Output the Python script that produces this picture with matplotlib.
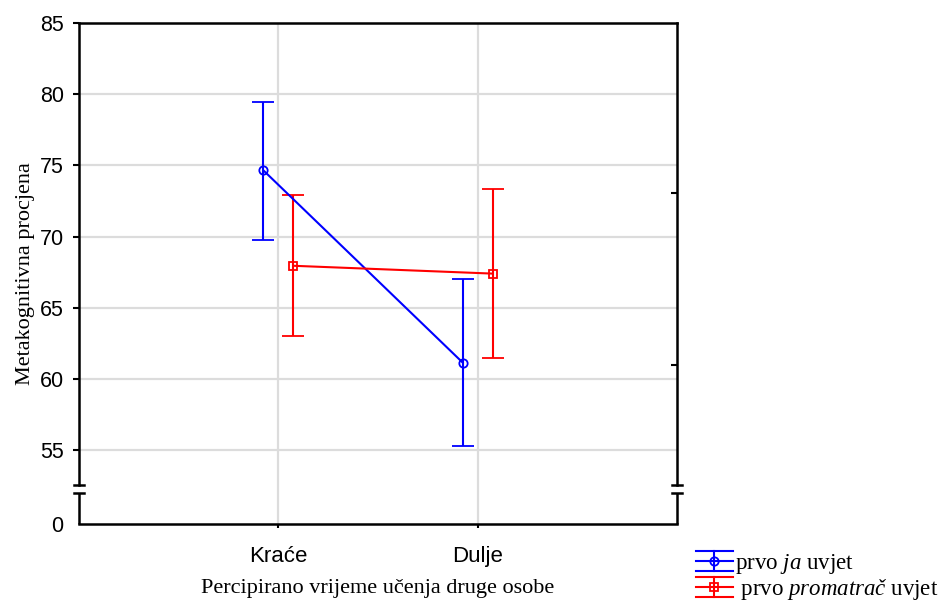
import matplotlib

matplotlib.use("Agg")

import matplotlib.pyplot as plt
import matplotlib.transforms as mtransforms
import numpy as np
from matplotlib.legend_handler import HandlerBase
from matplotlib.lines import Line2D

# data
categories = ["Kraće", "Dulje"]
ja_mean = [74.65, 61.15]
ja_upper = [79.45, 67.0]
ja_lower = [69.75, 55.3]
prom_mean = [67.95, 67.4]
prom_upper = [72.9, 73.35]
prom_lower = [63.05, 61.45]

y_ticks = [55, 60, 65, 70, 75, 80, 85]
right_ticks = [73.05, 61.0]

# broken axis: the visible range 55..85 plus a short stub standing for 0
AXIS_BOTTOM = 49.85
BREAK_HIGH = 52.55
BREAK_LOW = 52.0

BLUE = "#0000ff"
RED = "#ff0000"
GRID = "#dcdcdc"


class HandlerCapped(HandlerBase):
    """Legend key like the original: caps running across the whole key."""

    def create_artists(self, legend, orig_handle, xdescent, ydescent,
                       width, height, fontsize, trans):
        color = orig_handle.get_color()
        marker = orig_handle.get_marker()
        x0, x1 = -xdescent, -xdescent + width
        yc = height / 2 - ydescent
        cap = 7.2
        artists = []
        for yy in [yc - cap, yc, yc + cap]:
            artists.append(Line2D([x0, x1], [yy, yy], color=color, lw=1.5))
        xm = (x0 + x1) / 2
        artists.append(Line2D([xm, xm], [yc - cap, yc + cap], color=color, lw=1.5))
        artists.append(Line2D([xm], [yc], marker=marker, ms=6, mfc="none",
                              mec=color, mew=1.3, ls="none"))
        for a in artists:
            a.set_transform(trans)
        return artists


plt.rcParams["mathtext.fontset"] = "custom"
plt.rcParams["mathtext.rm"] = "Liberation Serif"
plt.rcParams["mathtext.it"] = "Liberation Serif:italic"

fig = plt.figure(figsize=(9.47, 6.03), dpi=100)
ax = fig.add_axes([0.0834, 0.1318, 0.6315, 0.8301])

x = np.arange(len(categories))
offset = 0.075

ja_err = [np.subtract(ja_mean, ja_lower), np.subtract(ja_upper, ja_mean)]
prom_err = [np.subtract(prom_mean, prom_lower), np.subtract(prom_upper, prom_mean)]

ax.errorbar(x - offset, ja_mean, yerr=ja_err, color=BLUE, lw=1.5, elinewidth=1.5,
            capsize=8, capthick=1.5, marker="o", ms=6, mfc="none", mec=BLUE, mew=1.3,
            zorder=3)
ax.errorbar(x + offset, prom_mean, yerr=prom_err, color=RED, lw=1.5, elinewidth=1.5,
            capsize=8, capthick=1.5, marker="s", ms=6, mfc="none", mec=RED, mew=1.3,
            zorder=3)

ax.set_xlim(-1, 2)
ax.set_ylim(AXIS_BOTTOM, 85)

# grid lines
for yv in y_ticks[:-1]:
    ax.axhline(yv, color=GRID, lw=1.6, zorder=0)
for xv in x:
    ax.axvline(xv, color=GRID, lw=1.6, zorder=0)

ax.set_xticks(x)
ax.set_xticklabels(categories, fontfamily="Liberation Sans", fontsize=16)
ax.set_yticks([AXIS_BOTTOM] + y_ticks)
ax.set_yticklabels(["0"] + [str(v) for v in y_ticks], fontfamily="Liberation Sans", fontsize=15.5)
ax.tick_params(axis="y", direction="out", length=4, width=1.5, pad=7)
ax.tick_params(axis="x", direction="out", length=3, width=1.5, pad=13)
ax.yaxis.get_major_ticks()[0].tick1line.set_visible(False)

# right spine ticks pointing inward
sec = ax.secondary_yaxis("right")
sec.set_yticks(right_ticks)
sec.set_yticklabels([])
sec.tick_params(direction="in", length=4, width=1.5)
sec.spines["right"].set_visible(False)

# spines with a break
for side in ["top", "bottom"]:
    ax.spines[side].set_linewidth(1.8)
for side in ["left", "right"]:
    ax.spines[side].set_linewidth(1.8)
    ax.spines[side].set_bounds(BREAK_HIGH, 85)

trans = mtransforms.blended_transform_factory(ax.transAxes, ax.transData)
dx = 0.008
for xs in [0, 1]:
    ax.plot([xs, xs], [AXIS_BOTTOM, BREAK_LOW], color="black", lw=1.8,
            transform=trans, clip_on=False, solid_capstyle="butt")
    for yb in [BREAK_HIGH, BREAK_LOW]:
        ax.plot([xs - dx, xs + dx], [yb, yb], color="black", lw=1.8,
                transform=trans, clip_on=False)

ax.set_ylabel("Metakognitivna procjena", fontfamily="Liberation Serif", fontsize=16, labelpad=3)
ax.set_xlabel("Percipirano vrijeme učenja druge osobe", fontfamily="Liberation Serif",
              fontsize=16, labelpad=9)

handles = [Line2D([], [], color=BLUE, marker="o"), Line2D([], [], color=RED, marker="s")]
labels = [r"prvo $\mathit{ja}$ uvjet", r" prvo $\mathit{promatrač}$ uvjet"]
fig.legend(handles, labels, loc="upper left", bbox_to_anchor=(0.735, 0.085), frameon=False,
           prop={"family": "Liberation Serif", "size": 16.5}, handlelength=1.6,
           handletextpad=0.1, labelspacing=0.05, borderaxespad=0, borderpad=0,
           handler_map={Line2D: HandlerCapped()})

fig.savefig("out.png", dpi=100)
